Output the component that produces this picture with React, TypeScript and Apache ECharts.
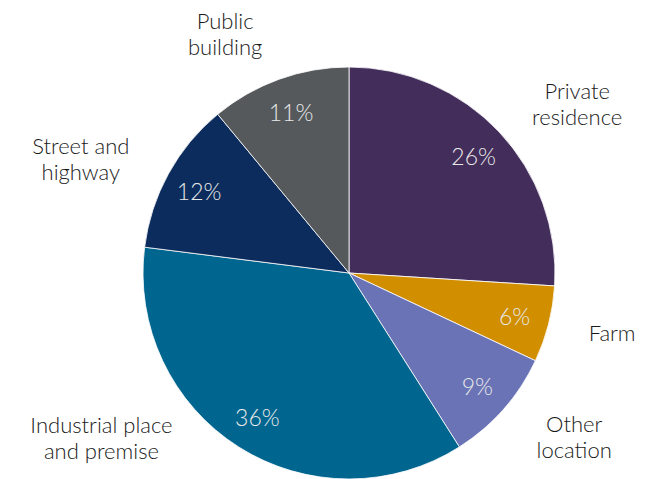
import React, { useEffect, useRef } from "react";
import * as echarts from "echarts";

const categories = [
  "Private\nresidence",
  "Farm",
  "Other\nlocation",
  "Industrial place\nand premise",
  "Street and\nhighway",
  "Public\nbuilding",
];
const values = [26, 6, 9, 36, 12, 11];
const colors = ["#432d5b", "#d18f00", "#6a73b6", "#00668f", "#0b2c5c", "#55595c"];

const W = 646;
const H = 479;
const CX = 349;
const CY = 273;
const R = 206;

export default function App() {
  const ref = useRef<HTMLDivElement>(null);
  useEffect(() => {
    document.body.style.margin = "0";
    if (!ref.current) return;
    const chart = echarts.init(ref.current, null, { renderer: "svg" });
    const total = values.reduce((a, b) => a + b, 0);
    const mids: number[] = [];
    let acc = 0;
    values.forEach((v) => {
      mids.push(((acc + v / 2) / total) * Math.PI * 2);
      acc += v;
    });
    const DX = 245;
    const KX = 1.1;
    const DY = 272;
    const KY = -0.64;
    const DC = 224;
    const data = categories.map((c, i) => ({
      name: c,
      value: values[i],
      itemStyle: { color: colors[i] },
    }));
    chart.setOption({
      animation: false,
      backgroundColor: "#ffffff",
      series: [
        {
          type: "pie",
          center: [CX, CY],
          radius: [0, R],
          startAngle: 90,
          clockwise: true,
          avoidLabelOverlap: false,
          silent: true,
          itemStyle: { borderColor: "#ffffff", borderWidth: 0.8 },
          label: {
            show: true,
            position: "outside",
            formatter: "{b}",
            fontFamily: "Lato",
            fontWeight: 300,
            fontSize: 22,
            lineHeight: 26,
            color: "#1a1a1a",
            align: "center",
          },
          labelLine: { show: false },
          labelLayout: (params: any) => {
            const i = params.dataIndex;
            const a = mids[i];
            const dx = Math.sin(a);
            const dy = -Math.cos(a);
            const hw = params.labelRect.width / 2;
            const hh = params.labelRect.height / 2;
            const sx = dx < 0 ? -1 : 1;
            const sy = dy < 0 ? -1 : 1;
            let x = CX + DX * dx + KX * sx * hw;
            let y = CY + DY * dy + KY * sy * hh;
            const maxY = H - 16 - hh;
            if (y > maxY) {
              y = maxY;
              const cornerY = y - hh - CY;
              const cornerX = Math.sqrt(Math.max(DC * DC - cornerY * cornerY, 0)) * sx;
              x = CX + cornerX + sx * hw;
            }
            return { x, y, align: "center", verticalAlign: "middle" };
          },
          data,
        },
        {
          type: "pie",
          center: [CX, CY],
          radius: [130, R],
          startAngle: 90,
          clockwise: true,
          silent: true,
          avoidLabelOverlap: false,
          itemStyle: { color: "rgba(0,0,0,0)", borderWidth: 0 },
          label: {
            show: true,
            position: "inside",
            formatter: "{c}%",
            fontFamily: "Lato",
            fontWeight: 300,
            fontSize: 23,
            color: "#e8e8e8",
          },
          labelLine: { show: false },
          data: values.map((v, i) => ({ name: categories[i], value: v })),
        },
      ],
    });
    return () => chart.dispose();
  }, []);
  return <div ref={ref} style={{ width: W, height: H }} />;
}
